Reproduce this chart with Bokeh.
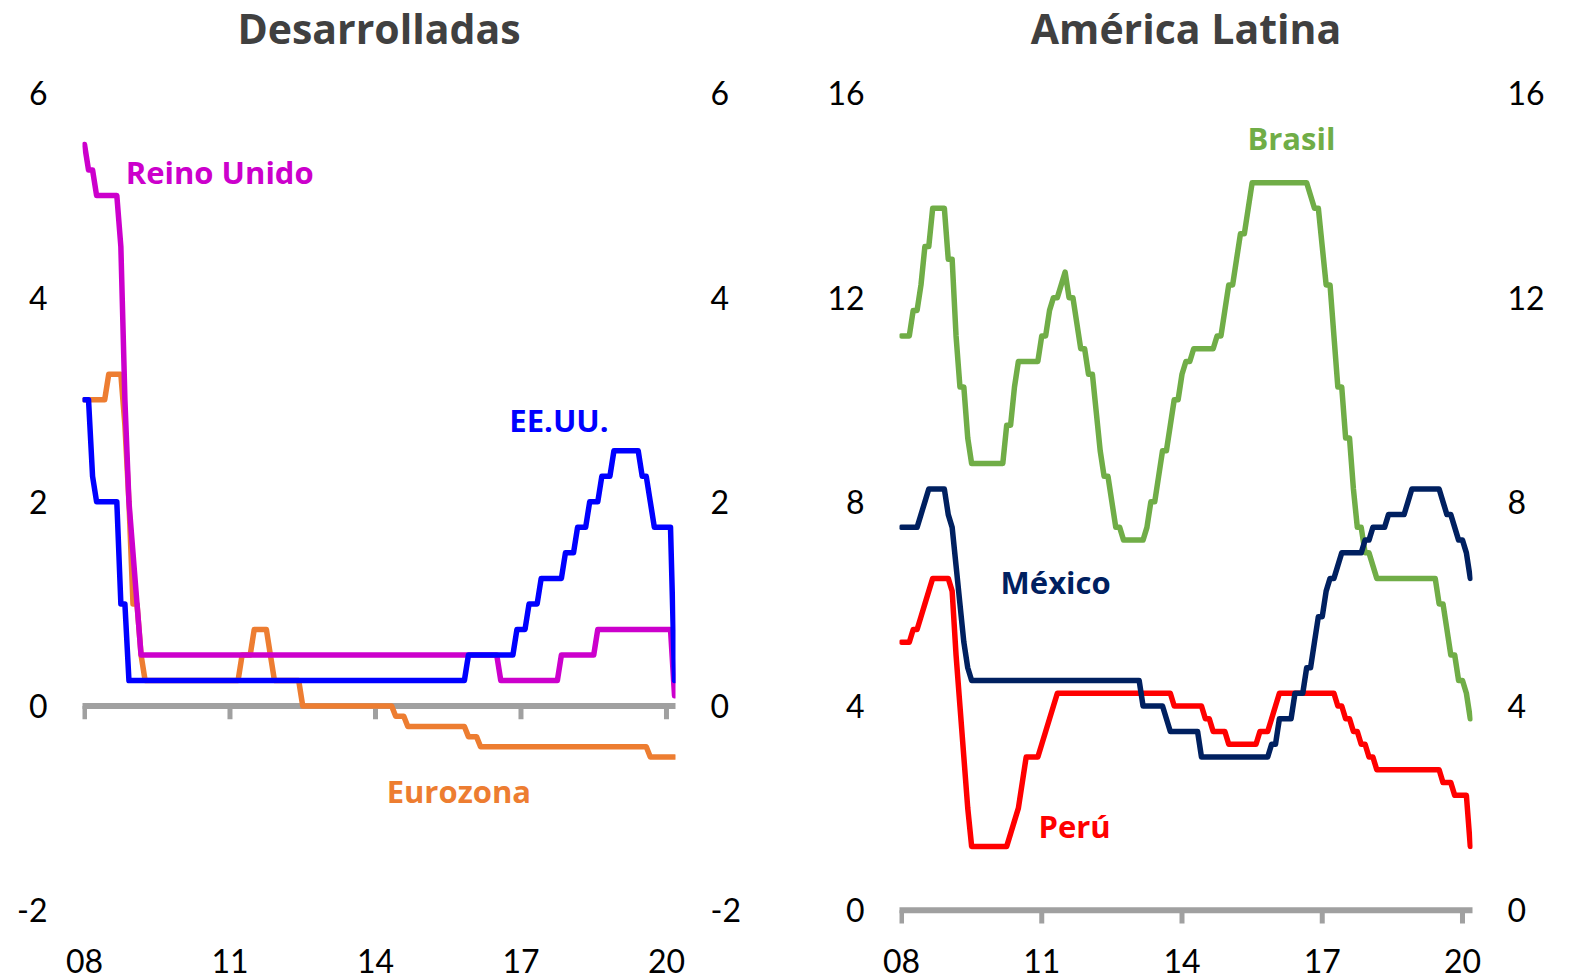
import pandas as pd
from bokeh.plotting import figure
from bokeh.models import Range1d, LinearAxis, FixedTicker, Label
from bokeh.layouts import row
from bokeh.embed import file_html
from bokeh.resources import INLINE

# ---------------- data (monthly, Jan 2008 - Mar 2020, policy rates %) ----------------
months = pd.date_range("2008-01-01", "2020-03-01", freq="MS")

ee_uu = [
    3.00, 3.00, 2.25, 2.00, 2.00, 2.00, 2.00, 2.00, 2.00, 1.00, 1.00, 0.25,  # 2008
    0.25, 0.25, 0.25, 0.25, 0.25, 0.25, 0.25, 0.25, 0.25, 0.25, 0.25, 0.25,  # 2009
    0.25, 0.25, 0.25, 0.25, 0.25, 0.25, 0.25, 0.25, 0.25, 0.25, 0.25, 0.25,  # 2010
    0.25, 0.25, 0.25, 0.25, 0.25, 0.25, 0.25, 0.25, 0.25, 0.25, 0.25, 0.25,  # 2011
    0.25, 0.25, 0.25, 0.25, 0.25, 0.25, 0.25, 0.25, 0.25, 0.25, 0.25, 0.25,  # 2012
    0.25, 0.25, 0.25, 0.25, 0.25, 0.25, 0.25, 0.25, 0.25, 0.25, 0.25, 0.25,  # 2013
    0.25, 0.25, 0.25, 0.25, 0.25, 0.25, 0.25, 0.25, 0.25, 0.25, 0.25, 0.25,  # 2014
    0.25, 0.25, 0.25, 0.25, 0.25, 0.25, 0.25, 0.25, 0.25, 0.25, 0.25, 0.50,  # 2015
    0.50, 0.50, 0.50, 0.50, 0.50, 0.50, 0.50, 0.50, 0.50, 0.50, 0.50, 0.75,  # 2016
    0.75, 0.75, 1.00, 1.00, 1.00, 1.25, 1.25, 1.25, 1.25, 1.25, 1.25, 1.50,  # 2017
    1.50, 1.50, 1.75, 1.75, 1.75, 2.00, 2.00, 2.00, 2.25, 2.25, 2.25, 2.50,  # 2018
    2.50, 2.50, 2.50, 2.50, 2.50, 2.50, 2.25, 2.25, 2.00, 1.75, 1.75, 1.75,  # 2019
    1.75, 1.75, 0.25,                                                      # 2020
]

reino_unido = [
    5.50, 5.25, 5.25, 5.00, 5.00, 5.00, 5.00, 5.00, 5.00, 4.50, 3.00, 2.00,  # 2008
    1.50, 1.00, 0.50, 0.50, 0.50, 0.50, 0.50, 0.50, 0.50, 0.50, 0.50, 0.50,  # 2009
    0.50, 0.50, 0.50, 0.50, 0.50, 0.50, 0.50, 0.50, 0.50, 0.50, 0.50, 0.50,  # 2010
    0.50, 0.50, 0.50, 0.50, 0.50, 0.50, 0.50, 0.50, 0.50, 0.50, 0.50, 0.50,  # 2011
    0.50, 0.50, 0.50, 0.50, 0.50, 0.50, 0.50, 0.50, 0.50, 0.50, 0.50, 0.50,  # 2012
    0.50, 0.50, 0.50, 0.50, 0.50, 0.50, 0.50, 0.50, 0.50, 0.50, 0.50, 0.50,  # 2013
    0.50, 0.50, 0.50, 0.50, 0.50, 0.50, 0.50, 0.50, 0.50, 0.50, 0.50, 0.50,  # 2014
    0.50, 0.50, 0.50, 0.50, 0.50, 0.50, 0.50, 0.50, 0.50, 0.50, 0.50, 0.50,  # 2015
    0.50, 0.50, 0.50, 0.50, 0.50, 0.50, 0.50, 0.25, 0.25, 0.25, 0.25, 0.25,  # 2016
    0.25, 0.25, 0.25, 0.25, 0.25, 0.25, 0.25, 0.25, 0.25, 0.25, 0.50, 0.50,  # 2017
    0.50, 0.50, 0.50, 0.50, 0.50, 0.50, 0.50, 0.75, 0.75, 0.75, 0.75, 0.75,  # 2018
    0.75, 0.75, 0.75, 0.75, 0.75, 0.75, 0.75, 0.75, 0.75, 0.75, 0.75, 0.75,  # 2019
    0.75, 0.75, 0.10,                                                      # 2020
]

eurozona = [
    3.00, 3.00, 3.00, 3.00, 3.00, 3.00, 3.25, 3.25, 3.25, 3.25, 2.75, 2.00,  # 2008
    1.00, 1.00, 0.50, 0.25, 0.25, 0.25, 0.25, 0.25, 0.25, 0.25, 0.25, 0.25,  # 2009
    0.25, 0.25, 0.25, 0.25, 0.25, 0.25, 0.25, 0.25, 0.25, 0.25, 0.25, 0.25,  # 2010
    0.25, 0.25, 0.25, 0.50, 0.50, 0.50, 0.75, 0.75, 0.75, 0.75, 0.50, 0.25,  # 2011
    0.25, 0.25, 0.25, 0.25, 0.25, 0.25, 0.00, 0.00, 0.00, 0.00, 0.00, 0.00,  # 2012
    0.00, 0.00, 0.00, 0.00, 0.00, 0.00, 0.00, 0.00, 0.00, 0.00, 0.00, 0.00,  # 2013
    0.00, 0.00, 0.00, 0.00, 0.00, -0.10, -0.10, -0.10, -0.20, -0.20, -0.20, -0.20,  # 2014
    -0.20, -0.20, -0.20, -0.20, -0.20, -0.20, -0.20, -0.20, -0.20, -0.20, -0.20, -0.30,  # 2015
    -0.30, -0.30, -0.40, -0.40, -0.40, -0.40, -0.40, -0.40, -0.40, -0.40, -0.40, -0.40,  # 2016
    -0.40, -0.40, -0.40, -0.40, -0.40, -0.40, -0.40, -0.40, -0.40, -0.40, -0.40, -0.40,  # 2017
    -0.40, -0.40, -0.40, -0.40, -0.40, -0.40, -0.40, -0.40, -0.40, -0.40, -0.40, -0.40,  # 2018
    -0.40, -0.40, -0.40, -0.40, -0.40, -0.40, -0.40, -0.40, -0.50, -0.50, -0.50, -0.50,  # 2019
    -0.50, -0.50, -0.50,                                                   # 2020
]

brasil = [
    11.25, 11.25, 11.25, 11.75, 11.75, 12.25, 13.00, 13.00, 13.75, 13.75, 13.75, 13.75,  # 2008
    12.75, 12.75, 11.25, 10.25, 10.25, 9.25, 8.75, 8.75, 8.75, 8.75, 8.75, 8.75,  # 2009
    8.75, 8.75, 8.75, 9.50, 9.50, 10.25, 10.75, 10.75, 10.75, 10.75, 10.75, 10.75,  # 2010
    11.25, 11.25, 11.75, 12.00, 12.00, 12.25, 12.50, 12.00, 12.00, 11.50, 11.00, 11.00,  # 2011
    10.50, 10.50, 9.75, 9.00, 8.50, 8.50, 8.00, 7.50, 7.50, 7.25, 7.25, 7.25,  # 2012
    7.25, 7.25, 7.25, 7.50, 8.00, 8.00, 8.50, 9.00, 9.00, 9.50, 10.00, 10.00,  # 2013
    10.50, 10.75, 10.75, 11.00, 11.00, 11.00, 11.00, 11.00, 11.00, 11.25, 11.25, 11.75,  # 2014
    12.25, 12.25, 12.75, 13.25, 13.25, 13.75, 14.25, 14.25, 14.25, 14.25, 14.25, 14.25,  # 2015
    14.25, 14.25, 14.25, 14.25, 14.25, 14.25, 14.25, 14.25, 14.25, 14.00, 13.75, 13.75,  # 2016
    13.00, 12.25, 12.25, 11.25, 10.25, 10.25, 9.25, 9.25, 8.25, 7.50, 7.50, 7.00,  # 2017
    7.00, 6.75, 6.50, 6.50, 6.50, 6.50, 6.50, 6.50, 6.50, 6.50, 6.50, 6.50,  # 2018
    6.50, 6.50, 6.50, 6.50, 6.50, 6.50, 6.00, 6.00, 5.50, 5.00, 5.00, 4.50,  # 2019
    4.50, 4.25, 3.75,                                                      # 2020
]

mexico = [
    7.50, 7.50, 7.50, 7.50, 7.50, 7.75, 8.00, 8.25, 8.25, 8.25, 8.25, 8.25,  # 2008
    7.75, 7.50, 6.75, 6.00, 5.25, 4.75, 4.50, 4.50, 4.50, 4.50, 4.50, 4.50,  # 2009
    4.50, 4.50, 4.50, 4.50, 4.50, 4.50, 4.50, 4.50, 4.50, 4.50, 4.50, 4.50,  # 2010
    4.50, 4.50, 4.50, 4.50, 4.50, 4.50, 4.50, 4.50, 4.50, 4.50, 4.50, 4.50,  # 2011
    4.50, 4.50, 4.50, 4.50, 4.50, 4.50, 4.50, 4.50, 4.50, 4.50, 4.50, 4.50,  # 2012
    4.50, 4.50, 4.00, 4.00, 4.00, 4.00, 4.00, 4.00, 3.75, 3.50, 3.50, 3.50,  # 2013
    3.50, 3.50, 3.50, 3.50, 3.50, 3.00, 3.00, 3.00, 3.00, 3.00, 3.00, 3.00,  # 2014
    3.00, 3.00, 3.00, 3.00, 3.00, 3.00, 3.00, 3.00, 3.00, 3.00, 3.00, 3.25,  # 2015
    3.25, 3.75, 3.75, 3.75, 3.75, 4.25, 4.25, 4.25, 4.75, 4.75, 5.25, 5.75,  # 2016
    5.75, 6.25, 6.50, 6.50, 6.75, 7.00, 7.00, 7.00, 7.00, 7.00, 7.00, 7.25,  # 2017
    7.25, 7.50, 7.50, 7.50, 7.50, 7.75, 7.75, 7.75, 7.75, 7.75, 8.00, 8.25,  # 2018
    8.25, 8.25, 8.25, 8.25, 8.25, 8.25, 8.25, 8.00, 7.75, 7.75, 7.50, 7.25,  # 2019
    7.25, 7.00, 6.50,                                                      # 2020
]

peru = [
    5.25, 5.25, 5.25, 5.50, 5.50, 5.75, 6.00, 6.25, 6.50, 6.50, 6.50, 6.50,  # 2008
    6.50, 6.25, 5.00, 4.00, 3.00, 2.00, 1.25, 1.25, 1.25, 1.25, 1.25, 1.25,  # 2009
    1.25, 1.25, 1.25, 1.25, 1.50, 1.75, 2.00, 2.50, 3.00, 3.00, 3.00, 3.00,  # 2010
    3.25, 3.50, 3.75, 4.00, 4.25, 4.25, 4.25, 4.25, 4.25, 4.25, 4.25, 4.25,  # 2011
    4.25, 4.25, 4.25, 4.25, 4.25, 4.25, 4.25, 4.25, 4.25, 4.25, 4.25, 4.25,  # 2012
    4.25, 4.25, 4.25, 4.25, 4.25, 4.25, 4.25, 4.25, 4.25, 4.25, 4.00, 4.00,  # 2013
    4.00, 4.00, 4.00, 4.00, 4.00, 4.00, 3.75, 3.75, 3.50, 3.50, 3.50, 3.50,  # 2014
    3.25, 3.25, 3.25, 3.25, 3.25, 3.25, 3.25, 3.25, 3.50, 3.50, 3.50, 3.75,  # 2015
    4.00, 4.25, 4.25, 4.25, 4.25, 4.25, 4.25, 4.25, 4.25, 4.25, 4.25, 4.25,  # 2016
    4.25, 4.25, 4.25, 4.25, 4.00, 4.00, 3.75, 3.75, 3.50, 3.50, 3.25, 3.25,  # 2017
    3.00, 3.00, 2.75, 2.75, 2.75, 2.75, 2.75, 2.75, 2.75, 2.75, 2.75, 2.75,  # 2018
    2.75, 2.75, 2.75, 2.75, 2.75, 2.75, 2.75, 2.50, 2.50, 2.50, 2.25, 2.25,  # 2019
    2.25, 2.25, 1.25,                                                      # 2020
]

x_ticks = [2008, 2011, 2014, 2017, 2020]
x_tick_labels = ["08", "11", "14", "17", "20"]
left_y_ticks = [-2, 0, 2, 4, 6]
right_y_ticks = [0, 4, 8, 12, 16]

# ---------------- styling / layout ----------------
TICK_FONT = "Lato"
BOLD_FONT = "Open Sans"
TICK_FONT_SIZE = "32px"
H = 978
AXIS_GRAY = "#A0A0A0"
TOP_PX = 93          # pixel row of the top tick (6 / 16)
TITLE_BASE_PX = 28   # pixel row used to anchor the title
FRAME_BOTTOM_PX = 925.3

xs = [d.year + (d.month - 1) / 12 for d in months]


def make_panel(title, width, x_range, y_lo, y_top_tick, y_ticks, borders, series, labels, tick_len):
    bl, br = borders
    # the plot area reaches the top edge of the canvas so that the title can sit inside it
    px_per_unit = (FRAME_BOTTOM_PX - TOP_PX) / (y_top_tick - y_lo)
    y_hi = y_top_tick + TOP_PX / px_per_unit
    title_y = y_top_tick + (TOP_PX - TITLE_BASE_PX) / px_per_unit

    p = figure(width=width, height=H,
               x_range=Range1d(*x_range), y_range=Range1d(y_lo, y_hi),
               output_backend="svg", toolbar_location=None,
               min_border_left=bl, min_border_right=br,
               min_border_top=0, min_border_bottom=53,
               background_fill_color="white", border_fill_color="white")
    p.outline_line_color = None
    p.grid.visible = False

    p.add_layout(Label(x=(x_range[0] + x_range[1]) / 2, y=title_y, text=title,
                       text_font=BOLD_FONT, text_font_size="41px", text_font_style="bold",
                       text_color="#404040", text_align="center", text_baseline="alphabetic"))

    # bottom axis: labels only
    xa = p.xaxis[0]
    xa.ticker = FixedTicker(ticks=x_ticks)
    xa.major_label_overrides = {t: l for t, l in zip(x_ticks, x_tick_labels)}
    xa.axis_line_color = None
    xa.major_tick_line_color = None
    xa.minor_tick_line_color = None
    xa.major_tick_out = 0
    xa.major_tick_in = 0
    xa.minor_tick_out = 0
    xa.major_label_standoff = 23
    xa.major_label_text_font = TICK_FONT
    xa.major_label_text_font_size = TICK_FONT_SIZE
    xa.major_label_text_color = "black"

    # y axes on both sides
    ylabels = {t: str(t) for t in y_ticks}
    ya = p.yaxis[0]
    right_axis = LinearAxis()
    p.add_layout(right_axis, "right")
    for ax in (ya, right_axis):
        ax.ticker = FixedTicker(ticks=y_ticks)
        ax.major_label_overrides = ylabels
        ax.axis_line_color = None
        ax.major_tick_line_color = None
        ax.minor_tick_line_color = None
        ax.major_tick_out = 0
        ax.major_tick_in = 0
        ax.minor_tick_out = 0
        ax.major_label_standoff = 35
        ax.major_label_text_font = TICK_FONT
        ax.major_label_text_font_size = TICK_FONT_SIZE
        ax.major_label_text_color = "black"

    # gray zero baseline with downward tick marks
    p.segment(x0=[xs[0]], y0=[0], x1=[xs[-1]], y1=[0],
              line_color=AXIS_GRAY, line_width=6, line_cap="square")
    p.segment(x0=x_ticks, y0=[0] * len(x_ticks), x1=x_ticks, y1=[-tick_len] * len(x_ticks),
              line_color=AXIS_GRAY, line_width=5)

    for vals, color in series:
        p.line(xs, vals, line_color=color, line_width=5.5, line_join="round", line_cap="round")

    for (lx, ly, txt, color) in labels:
        p.add_layout(Label(x=lx, y=ly, text=txt, text_color=color,
                           text_font=BOLD_FONT, text_font_size="31px", text_font_style="bold",
                           text_align="left", text_baseline="middle"))
    return p


left = make_panel(
    "Desarrolladas", 790,
    (2007.959, 2020.186), -2.15, 6, left_y_ticks, (82, 115),
    [(eurozona, "#ED7D31"), (reino_unido, "#CC00CC"), (ee_uu, "#0000FF")],
    [(2008.85, 5.23, "Reino Unido", "#CC00CC"),
     (2016.76, 2.80, "EE.UU.", "#0000FF"),
     (2014.23, -0.83, "Eurozona", "#ED7D31")],
    0.13,
)

right = make_panel(
    "América Latina", 783,
    (2007.957, 2020.214), -0.3, 16, right_y_ticks, (109, 101),
    [(brasil, "#70AD47"), (peru, "#FF0000"), (mexico, "#002060")],
    [(2015.40, 15.12, "Brasil", "#70AD47"),
     (2010.12, 6.42, "México", "#002060"),
     (2010.93, 1.645, "Perú", "#FF0000")],
    0.26,
)

layout = row(left, right)
open("out.html", "w").write(file_html(layout, INLINE))
